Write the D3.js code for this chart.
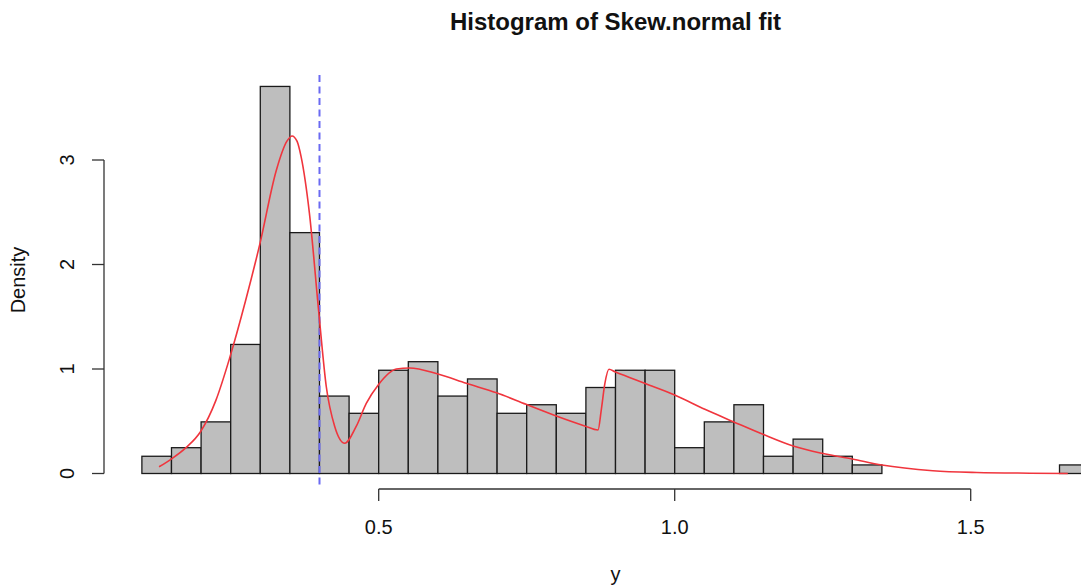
<!doctype html>
<html>
  <head>
    <title>Histogram of Skew.normal fit</title>
    <style>
      body { margin: 0; background: #fff; }
      text { font-family: "Liberation Sans", Arial, Helvetica, sans-serif; fill: #111; }
      .title { font-weight: bold; font-size: 24px; }
      .tick-label, .axis-title { font-size: 20px; }
    </style>
  </head>

  <body>
    <div id="content"></div>

    <script src="https://d3js.org/d3.v7.min.js"></script>
    <script>
      // histogram breaks (bin edges) and densities
      const breaks = [0.10, 0.15, 0.20, 0.25, 0.30, 0.35, 0.40, 0.45, 0.50, 0.55, 0.60,
        0.65, 0.70, 0.75, 0.80, 0.85, 0.90, 0.95, 1.00, 1.05, 1.10, 1.15, 1.20,
        1.25, 1.30, 1.35, 1.40, 1.45, 1.50, 1.55, 1.60, 1.65, 1.70];
      const density = [0.165, 0.247, 0.494, 1.235, 3.704, 2.305, 0.741, 0.576, 0.988, 1.070,
        0.741, 0.905, 0.576, 0.658, 0.576, 0.823, 0.988, 0.988, 0.247, 0.494,
        0.658, 0.165, 0.329, 0.165, 0.082, 0, 0, 0, 0, 0, 0, 0.082];

      // fitted curve (red)
      const fitX = [0.129, 0.149, 0.175, 0.199, 0.225, 0.248, 0.275, 0.299, 0.327, 0.345, 0.3536,
        0.362, 0.369, 0.383, 0.399, 0.4115, 0.4257, 0.4426, 0.462, 0.479, 0.4995, 0.53,
        0.552, 0.600, 0.648, 0.699, 0.749, 0.800, 0.848, 0.8705, 0.876, 0.882, 0.889,
        0.899, 0.949, 1.000, 1.051, 1.099, 1.149, 1.200, 1.249, 1.300, 1.350, 1.436,
        1.510, 1.600, 1.664];
      const fitY = [0.065, 0.136, 0.25, 0.40, 0.70, 1.10, 1.65, 2.19, 2.90, 3.18, 3.23,
        3.18, 3.03, 2.49, 1.53, 0.83, 0.45, 0.29, 0.45, 0.67, 0.85, 1.00,
        1.01, 0.952, 0.863, 0.773, 0.662, 0.55, 0.455, 0.416, 0.61, 0.86, 0.997,
        0.974, 0.863, 0.751, 0.614, 0.496, 0.375, 0.263, 0.193, 0.139, 0.081, 0.027,
        0.01, 0.003, 0.0];

      const cutoff = 0.4;
      const xTicks = [0.5, 1.0, 1.5];
      const yTicks = [0, 1, 2, 3];

      const width = 1081, height = 586;

      const svg = d3.select('#content')
        .append('svg')
        .attr('width', width)
        .attr('height', height);

      // R style: 4% extension of the data range on each side
      const x = d3.scaleLinear().domain([0.036, 1.764]).range([104, 1127]);
      const y = d3.scaleLinear().domain([-0.1483, 3.8565]).range([489, 70.5]);

      const bins = density.map((d, i) => ({x0: breaks[i], x1: breaks[i + 1], d}));

      svg.append('g')
        .selectAll('rect')
        .data(bins)
        .join('rect')
        .attr('x', d => x(d.x0))
        .attr('y', d => y(d.d))
        .attr('width', d => x(d.x1) - x(d.x0))
        .attr('height', d => y(0) - y(d.d))
        .attr('fill', '#bebebe')
        .attr('stroke', '#1a1a1a')
        .attr('stroke-width', 1.3);

      // cutoff line
      svg.append('line')
        .attr('x1', x(cutoff))
        .attr('x2', x(cutoff))
        .attr('y1', 75)
        .attr('y2', 489)
        .attr('stroke', '#6a6af2')
        .attr('stroke-width', 2)
        .attr('stroke-dasharray', '7,4.5');

      // fitted density
      const line = d3.line()
        .x(d => x(d[0]))
        .y(d => y(d[1]))
        .curve(d3.curveMonotoneX);

      svg.append('path')
        .datum(fitX.map((v, i) => [v, fitY[i]]))
        .attr('d', line)
        .attr('fill', 'none')
        .attr('stroke', '#f0353d')
        .attr('stroke-width', 1.6);

      // x axis
      const xAxis = svg.append('g');
      xAxis.append('line')
        .attr('x1', x(xTicks[0])).attr('x2', x(xTicks[xTicks.length - 1]))
        .attr('y1', 489).attr('y2', 489)
        .attr('stroke', '#333').attr('stroke-width', 1.3);
      xAxis.selectAll('.tick')
        .data(xTicks)
        .join('line')
        .attr('x1', d => x(d)).attr('x2', d => x(d))
        .attr('y1', 489).attr('y2', 501)
        .attr('stroke', '#333').attr('stroke-width', 1.3);
      xAxis.selectAll('text')
        .data(xTicks)
        .join('text')
        .attr('class', 'tick-label')
        .attr('x', d => x(d))
        .attr('y', 534)
        .attr('text-anchor', 'middle')
        .text(d => d.toFixed(1));

      // y axis
      const yAxis = svg.append('g');
      yAxis.append('line')
        .attr('x1', 104).attr('x2', 104)
        .attr('y1', y(yTicks[0])).attr('y2', y(yTicks[yTicks.length - 1]))
        .attr('stroke', '#333').attr('stroke-width', 1.3);
      yAxis.selectAll('.tick')
        .data(yTicks)
        .join('line')
        .attr('x1', 92).attr('x2', 104)
        .attr('y1', d => y(d)).attr('y2', d => y(d))
        .attr('stroke', '#333').attr('stroke-width', 1.3);
      yAxis.selectAll('text')
        .data(yTicks)
        .join('text')
        .attr('class', 'tick-label')
        .attr('transform', d => `translate(74, ${y(d)}) rotate(-90)`)
        .attr('text-anchor', 'middle')
        .text(d => d);

      // titles
      svg.append('text')
        .attr('class', 'title')
        .attr('x', 615.5)
        .attr('y', 30)
        .attr('text-anchor', 'middle')
        .text('Histogram of Skew.normal fit');

      svg.append('text')
        .attr('class', 'axis-title')
        .attr('x', 615.5)
        .attr('y', 581)
        .attr('text-anchor', 'middle')
        .text('y');

      svg.append('text')
        .attr('class', 'axis-title')
        .attr('transform', 'translate(25, 280) rotate(-90)')
        .attr('text-anchor', 'middle')
        .text('Density');
    </script>
  </body>
</html>
